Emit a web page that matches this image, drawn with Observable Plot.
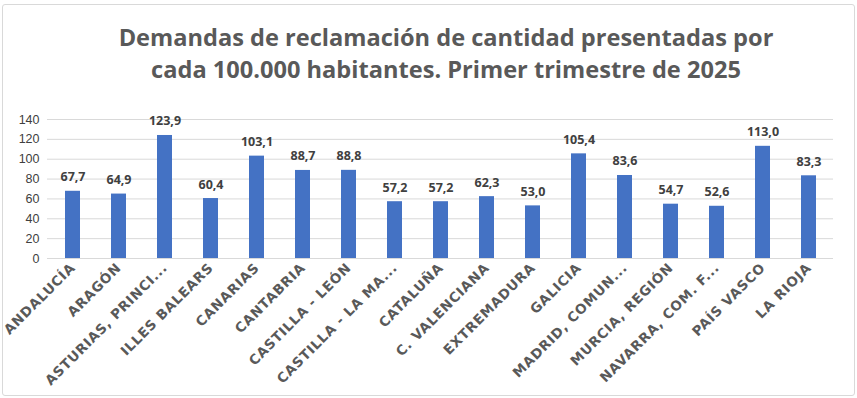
<!DOCTYPE html>
<html>
<head>
<meta charset="utf-8">
<script src="https://cdn.jsdelivr.net/npm/d3@7"></script>
<script src="https://cdn.jsdelivr.net/npm/@observablehq/plot@0.6"></script>
<style>
  html, body { margin: 0; padding: 0; background: #fff; }
  #frame { position: absolute; left: 2px; top: 4px; width: 853px; height: 392px; border: 1px solid #d9d9d9; border-radius: 3px; box-sizing: border-box; pointer-events: none; }
  #title { position: relative; width: 857px; height: 100px; box-sizing: border-box; padding-top: 21px; padding-left: 35px; text-align: center; font-family: "Open Sans", sans-serif; font-weight: bold; font-size: 23.6px; line-height: 32px; color: #595959; }
  #chart { position: relative; }
  #chart g[aria-label="x-axis tick label"] text { font-family: "DejaVu Sans", Verdana, sans-serif !important; font-weight: bold; font-size: 13.5px; letter-spacing: 0.7px; }
</style>
</head>
<body>
<div id="frame"></div>
<div id="title">Demandas de reclamación de cantidad presentadas por<br>cada 100.000 habitantes. Primer trimestre de 2025</div>
<div id="chart"></div>
<script>
const regions = ["ANDALUCÍA", "ARAGÓN", "ASTURIAS, PRINCI...", "ILLES BALEARS", "CANARIAS", "CANTABRIA", "CASTILLA - LEÓN", "CASTILLA - LA MA...", "CATALUÑA", "C. VALENCIANA", "EXTREMADURA", "GALICIA", "MADRID, COMUN...", "MURCIA, REGIÓN", "NAVARRA, COM. F...", "PAÍS VASCO", "LA RIOJA"];
const values = [67.7, 64.9, 123.9, 60.4, 103.1, 88.7, 88.8, 57.2, 57.2, 62.3, 53.0, 105.4, 83.6, 54.7, 52.6, 113.0, 83.3];
const yTicks = [0, 20, 40, 60, 80, 100, 120, 140];

const data = regions.map((r, i) => ({region: r, value: values[i]}));
const fmt = v => v.toFixed(1).replace(".", ",");

const chart = Plot.plot({
  width: 857,
  height: 298,
  marginTop: 19,
  marginBottom: 140,
  marginLeft: 47,
  marginRight: 24,
  style: {color: "#595959", background: "transparent"},
  x: {domain: regions, paddingInner: 0.68, paddingOuter: 0.34, label: null, tickSize: 0, tickPadding: 6, tickRotate: -45},
  y: {domain: [0, 140], ticks: yTicks, label: null, tickSize: 0, tickPadding: 8},
  marks: [
    Plot.ruleY(yTicks, {stroke: "#d9d9d9", strokeWidth: 1}),
    Plot.barY(data, {x: "region", y: "value", fill: "#4472C4"}),
    Plot.text(data, {x: "region", y: "value", text: d => fmt(d.value), dy: -14, fontSize: 12.5, fontWeight: "bold", fill: "#404040", fontFamily: "Open Sans"}),
    Plot.axisY({ticks: yTicks, tickSize: 0, tickPadding: 8, fontSize: 12.5, fill: "#404040", fontFamily: "Liberation Sans"}),
    Plot.axisX({tickSize: 0, tickPadding: 7, tickRotate: -45, fontSize: 13.5, fontWeight: "bold", fill: "#595959", fontFamily: "DejaVu Sans"})
  ]
});
document.getElementById("chart").appendChild(chart);
</script>
</body>
</html>
